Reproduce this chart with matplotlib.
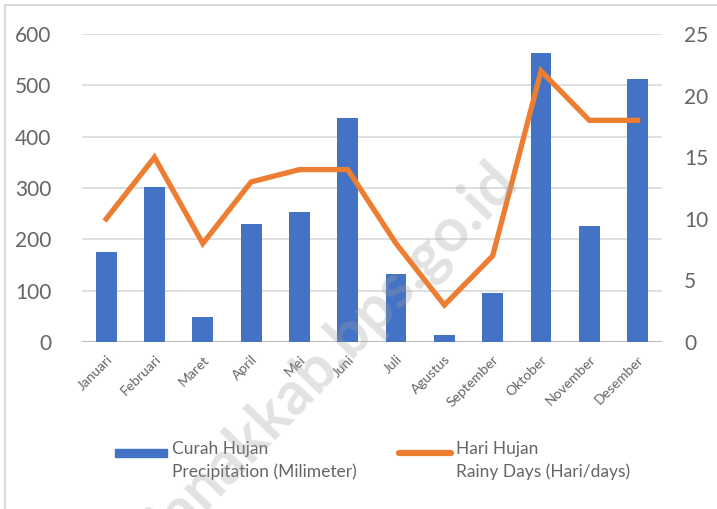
import matplotlib.pyplot as plt
from matplotlib.patches import Rectangle
from matplotlib.lines import Line2D

plt.rcParams['font.family'] = ['Lato', 'DejaVu Sans']

# Monthly data
months = ["Januari", "Februari", "Maret", "April", "Mei", "Juni", "Juli",
          "Agustus", "September", "Oktober", "November", "Desember"]
curah_hujan = [175, 302, 49, 230, 253, 436, 132, 13, 95, 563, 226, 512]
hari_hujan = [10, 15, 8, 13, 14, 14, 8, 3, 7, 22, 18, 18]

left_ticks = [0, 100, 200, 300, 400, 500, 600]
right_ticks = [0, 5, 10, 15, 20, 25]

gray = "#656565"
blue = "#4472C4"
orange = "#ED7D31"

fig = plt.figure(figsize=(7.17, 5.09), dpi=100)
ax = fig.add_axes([0.1144, 0.328, 0.8086, 0.605])
ax2 = ax.twinx()

x = range(len(months))
ax.bar(x, curah_hujan, width=0.43, color=blue, zorder=2)
ax2.plot(x, hari_hujan, color=orange, lw=3.8, solid_joinstyle="miter", zorder=3)

ax.set_xlim(-0.5, len(months) - 0.5)
ax.set_ylim(0, 600)
ax2.set_ylim(0, 25)
ax.set_yticks(left_ticks)
ax2.set_yticks(right_ticks)
ax.yaxis.grid(True, color="#d9d9d9", lw=1.2, zorder=0)
ax.set_axisbelow(True)

for a in (ax, ax2):
    for s in a.spines.values():
        s.set_visible(False)
ax.axhline(0, color="#bfbfbf", lw=1.5, zorder=1)

ax.set_xticks(list(x))
ax.set_xticklabels(months, rotation=45, ha="right", rotation_mode="anchor",
                   fontsize=10, color=gray)
ax.tick_params(axis="x", length=0, pad=8)
ax.tick_params(axis="y", length=0, labelsize=15, labelcolor=gray, pad=22)
ax2.tick_params(axis="y", length=0, labelsize=15, labelcolor=gray, pad=16)
ax.set_zorder(ax2.get_zorder() - 1)
ax.patch.set_visible(False)

# Legend drawn by hand so handles line up with the first text line
fig.add_artist(Rectangle((115 / 717, 1 - 457 / 509), 52 / 717, 8 / 509,
                         transform=fig.transFigure, color=blue))
fig.text(172 / 717, 1 - 441 / 509, "Curah Hujan\nPrecipitation (Milimeter)",
         fontsize=12.5, color=gray, va="top", ha="left", linespacing=1.45)
fig.add_artist(Line2D([399 / 717, 451 / 717], [1 - 453 / 509, 1 - 453 / 509],
                      transform=fig.transFigure, color=orange, lw=4.5,
                      solid_capstyle="round"))
fig.text(456 / 717, 1 - 441 / 509, "Hari Hujan\nRainy Days (Hari/days)",
         fontsize=12.5, color=gray, va="top", ha="left", linespacing=1.45)

# Chart frame
fig.add_artist(Rectangle((5 / 717, -0.1), 1.1, 1 - 5 / 509 + 0.1,
                         transform=fig.transFigure, fill=False,
                         edgecolor="#d9d9d9", lw=1.5))

# Watermark (runs off the bottom edge, as in the original)
fig.text(507 / 717, 1 - 172 / 509, "ianakkab.bps.go.id", rotation=46,
         rotation_mode="anchor", ha="right", va="center", fontsize=44,
         fontweight="bold", color="#a0a0a0", alpha=0.3, zorder=10)

fig.savefig("out.png", dpi=100)
